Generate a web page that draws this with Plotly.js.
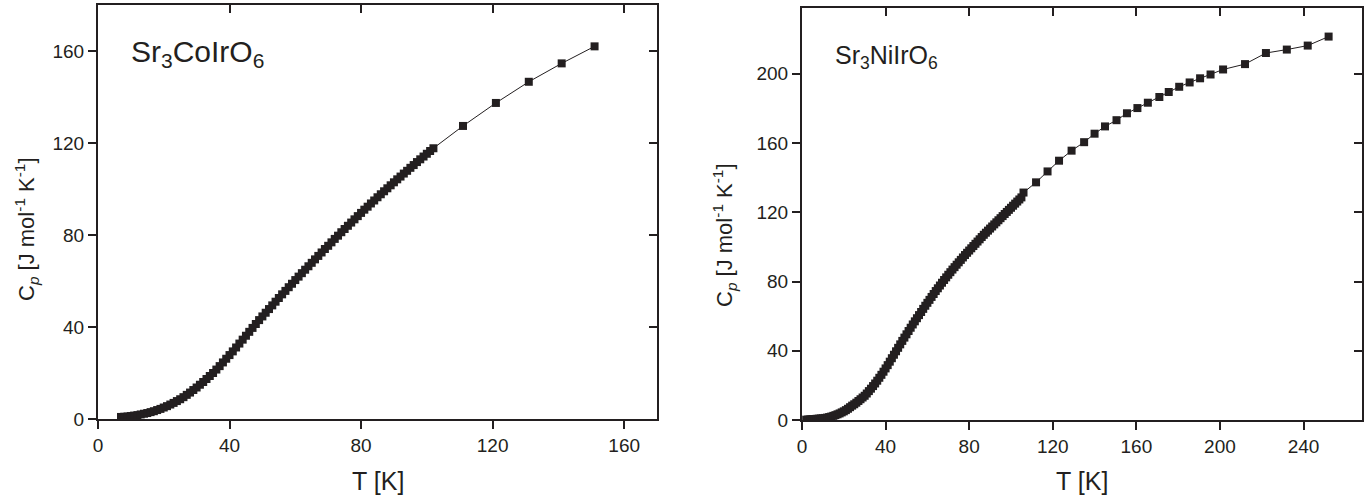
<!DOCTYPE html>
<html>
<head>
<meta charset="utf-8">
<script src="https://cdn.plot.ly/plotly-3.0.1.min.js"></script>
<style>html,body{margin:0;padding:0;background:#fff;}#chart{width:1370px;height:495px;}</style>
</head>
<body>
<div id="chart"></div>
<script>
// Sr3CoIrO6 : dense low-temperature data + sparse high-temperature data
const coT = [7,8,9,10,11,12,13,14,15,16,17,18,19,20,21,22,23,24,25,26,27,28,29,30,31,32,33,34,35,36,37,38,39,40,41,42,43,44,45,46,47,48,49,50,51,52,53,54,55,56,57,58,59,60,61,62,63,64,65,66,67,68,69,70,71,72,73,74,75,76,77,78,79,80,81,82,83,84,85,86,87,88,89,90,91,92,93,94,95,96,97,98,99,100,101,102,111,121,131,141,151];
const coCp = [0.9,1.0,1.1,1.3,1.5,1.7,2.0,2.3,2.6,3.0,3.4,3.9,4.4,5.0,5.6,6.3,7.0,7.8,8.6,9.5,10.5,11.5,12.6,13.7,14.9,16.1,17.4,18.7,20.0,21.5,23.0,24.6,26.2,27.8,29.4,31.1,32.8,34.5,36.2,37.9,39.6,41.3,43.0,44.6,46.2,47.8,49.4,51.0,52.6,54.2,55.7,57.3,58.8,60.4,61.9,63.4,64.9,66.4,67.9,69.4,70.9,72.4,73.9,75.3,76.8,78.3,79.7,81.2,82.6,84.0,85.4,86.8,88.2,89.6,91.0,92.3,93.7,95.0,96.4,97.7,99.0,100.3,101.6,102.9,104.2,105.4,106.7,107.9,109.2,110.4,111.7,112.9,114.1,115.3,116.5,117.7,127.4,137.4,146.6,154.6,162.0];

// Sr3NiIrO6
const niT = [2,3,4,5,6,7,8,9,10,11,12,13,14,15,16,17,18,19,20,21,22,23,24,25,26,27,28,29,30,31,32,33,34,35,36,37,38,39,40,41,42,43,44,45,46,47,48,49,50,51,52,53,54,55,56,57,58,59,60,61,62,63,64,65,66,67,68,69,70,71,72,73,74,75,76,77,78,79,80,81,82,83,84,85,86,87,88,89,90,91,92,93,94,95,96,97,98,99,100,101,102,103,104,105,
  106,112,117.5,123,129,135,140,145,150.5,155.5,160.5,165.5,171,175.5,180.5,185.5,190.5,195.5,201.5,212,222,232,242,252];
const niCp = [0.2,0.3,0.4,0.5,0.6,0.7,0.8,0.9,1.0,1.2,1.4,1.7,2.0,2.4,2.8,3.3,3.8,4.4,5.0,5.7,6.5,7.4,8.3,9.1,10.0,11.0,12.0,13.0,14.0,15.3,16.7,18.1,19.6,21.1,22.7,24.4,26.1,27.9,29.8,31.7,33.7,35.7,37.7,39.7,41.7,43.7,45.7,47.6,49.5,51.4,53.3,55.2,57.0,58.8,60.6,62.4,64.2,66.0,67.7,69.4,71.1,72.8,74.5,76.1,77.7,79.3,80.9,82.4,83.9,85.4,86.9,88.3,89.7,91.1,92.5,93.9,95.3,96.6,97.9,99.2,100.5,101.8,103.1,104.4,105.7,107.0,108.2,109.4,110.6,111.8,113.0,114.2,115.4,116.6,117.8,119.0,120.2,121.4,122.6,123.8,125.0,126.2,127.4,128.6,
  131.4,137.3,143.6,149.8,155.6,160.5,165.4,169.6,173.2,177.2,180.2,183.3,186.6,189.5,192.5,195.0,197.4,199.6,202.5,205.6,212.0,214.0,216.3,221.5];

const tickVals1 = [0,40,80,120,160];
const tickVals2 = [0,40,80,120,160,200,240];

const ink = '#231f20';
const fontFam = 'Liberation Sans, Arial, sans-serif';

const markerStyle = {symbol:'square', size:8, color:ink};
const lineStyle = {color:ink, width:1};

const data = [
  {x:coT, y:coCp, xaxis:'x', yaxis:'y', mode:'lines+markers', marker:markerStyle, line:lineStyle, hoverinfo:'x+y'},
  {x:niT, y:niCp, xaxis:'x2', yaxis:'y2', mode:'lines+markers', marker:markerStyle, line:lineStyle, hoverinfo:'x+y'},
  {x:[null], y:[null], xaxis:'x3', yaxis:'y3', mode:'markers', hoverinfo:'skip'},
  {x:[null], y:[null], xaxis:'x4', yaxis:'y4', mode:'markers', hoverinfo:'skip'}
];

const baseAxis = {
  showgrid:false, zeroline:false, showline:true, linecolor:ink, linewidth:2, mirror:true,
  ticks:'outside', ticklen:8, tickwidth:2, tickcolor:ink,
  tickfont:{family:fontFam, size:19, color:ink}, fixedrange:true
};
const innerAxis = {
  showgrid:false, zeroline:false, showline:false, ticks:'inside', ticklen:8, tickwidth:2, tickcolor:ink,
  showticklabels:false, fixedrange:true
};
const ytitle = 'C<sub><i>p</i></sub> [J mol<sup>-1</sup> K<sup>-1</sup>]';
const xtitle = 'T [K]';
const xTitleFont = {family:fontFam, size:25, color:ink};
const yTitleFont = {family:fontFam, size:22, color:ink};

const layout = {
  width:1370, height:495, margin:{l:0,r:0,t:0,b:0},
  paper_bgcolor:'#fff', plot_bgcolor:'#fff', showlegend:false,
  font:{family:fontFam, color:ink},
  xaxis:Object.assign({}, baseAxis, {domain:[0.0715,0.4796], range:[0,170], anchor:'y', tickvals:tickVals1}),
  yaxis:Object.assign({}, baseAxis, {domain:[0.1535,0.99], range:[0,180], anchor:'x', tickvals:tickVals1}),
  xaxis3:Object.assign({}, innerAxis, {overlaying:'x', side:'top', anchor:'y3', range:[0,170], tickvals:tickVals1}),
  yaxis3:Object.assign({}, innerAxis, {overlaying:'y', side:'right', anchor:'x3', range:[0,180], tickvals:tickVals1}),
  xaxis2:Object.assign({}, baseAxis, {domain:[0.5854,0.9942], range:[0,268], anchor:'y2', tickvals:tickVals2}),
  yaxis2:Object.assign({}, baseAxis, {domain:[0.1515,0.9838], range:[0,238], anchor:'x2', tickvals:tickVals2}),
  xaxis4:Object.assign({}, innerAxis, {overlaying:'x2', side:'top', anchor:'y4', range:[0,268], tickvals:tickVals2}),
  yaxis4:Object.assign({}, innerAxis, {overlaying:'y2', side:'right', anchor:'x4', range:[0,238], tickvals:tickVals2}),
  annotations:[
    {text:ytitle, xref:'paper', yref:'paper', x:26/1370, y:1-229/495, xanchor:'center', yanchor:'middle', textangle:-90,
     showarrow:false, font:yTitleFont},
    {text:ytitle, xref:'paper', yref:'paper', x:725/1370, y:1-235/495, xanchor:'center', yanchor:'middle', textangle:-90,
     showarrow:false, font:yTitleFont},
    {text:xtitle, xref:'x domain', yref:'paper', x:0.5, y:1-481/495, xanchor:'center', yanchor:'middle',
     showarrow:false, font:xTitleFont},
    {text:xtitle, xref:'x2 domain', yref:'paper', x:0.5, y:1-481/495, xanchor:'center', yanchor:'middle',
     showarrow:false, font:xTitleFont},
    {text:'Sr<sub>3</sub>CoIrO<sub>6</sub>', xref:'x domain', yref:'y domain', x:0.055, y:0.882, xanchor:'left', yanchor:'middle',
     showarrow:false, font:{family:fontFam, size:30, color:ink}},
    {text:'Sr<sub>3</sub>NiIrO<sub>6</sub>', xref:'x2 domain', yref:'y2 domain', x:0.055, y:0.882, xanchor:'left', yanchor:'middle',
     showarrow:false, font:{family:fontFam, size:25, color:ink}}
  ]
};

Plotly.newPlot('chart', data, layout, {staticPlot:true, displayModeBar:false});
</script>
</body>
</html>
